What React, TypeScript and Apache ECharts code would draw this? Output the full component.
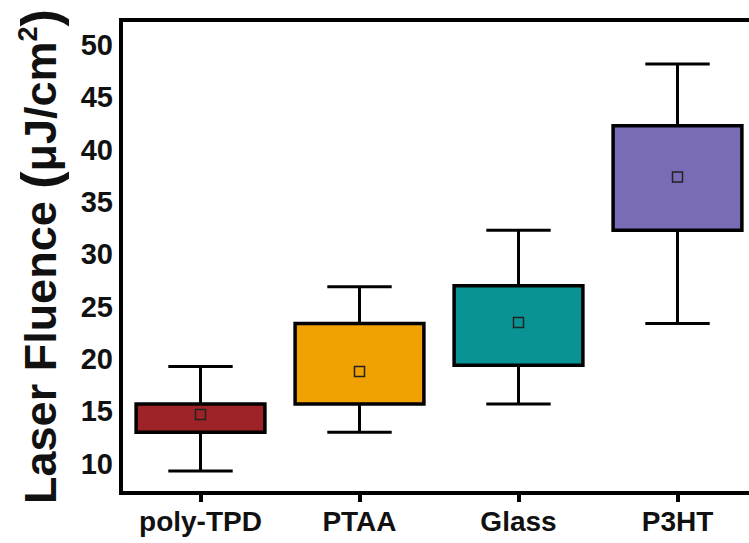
import React, { useEffect, useRef } from "react";
import * as echarts from "echarts";

const categories = ["poly-TPD", "PTAA", "Glass", "P3HT"];
const whiskerLow = [9.3, 13.0, 15.7, 23.4];
const boxLow = [13.0, 15.7, 19.4, 32.3];
const boxHigh = [15.7, 23.4, 27.0, 42.3];
const whiskerHigh = [19.3, 26.9, 32.3, 48.2];
const means = [14.7, 18.8, 23.5, 37.4];
const colors = ["#9e2329", "#f0a202", "#0a9394", "#7a6bb6"];
const yTicks = [10, 15, 20, 25, 30, 35, 40, 45, 50];

const FONT = "Liberation Sans, Arial, sans-serif";

export default function App() {
  const ref = useRef<HTMLDivElement>(null);
  useEffect(() => {
    if (!ref.current) return;
    const chart = echarts.init(ref.current, null, { renderer: "svg" });
    const data = categories.map((c, i) => [
      i,
      whiskerLow[i],
      boxLow[i],
      boxHigh[i],
      whiskerHigh[i],
      means[i],
    ]);
    chart.setOption({
      animation: false,
      backgroundColor: "#fff",
      grid: {
        left: 121,
        top: 20,
        bottom: 50,
        width: 636,
        show: true,
        borderWidth: 4,
        borderColor: "#000",
        containLabel: false,
        outerBoundsMode: "none",
      },
      xAxis: {
        type: "category",
        data: categories,
        boundaryGap: true,
        axisLine: { show: true, lineStyle: { color: "#000", width: 4 } },
        axisTick: {
          show: true,
          alignWithLabel: true,
          interval: 0,
          length: 9,
          lineStyle: { color: "#000", width: 4 },
        },
        axisLabel: {
          interval: 0,
          color: "#111",
          fontSize: 28,
          fontWeight: "bold",
          fontFamily: FONT,
          margin: 14,
        },
        splitLine: { show: false },
      },
      yAxis: {
        type: "value",
        min: 7.2,
        max: 52.4,
        axisLine: { show: true, lineStyle: { color: "#000", width: 4 } },
        axisTick: { show: false },
        splitLine: { show: false },
        axisLabel: {
          customValues: yTicks,
          color: "#111",
          fontSize: 29,
          fontWeight: "bold",
          fontFamily: FONT,
          margin: 8,
        },
        name: "{a|Laser Fluence }{p|(}{a|μJ/cm}{s|2}{p|)}",
        nameLocation: "middle",
        nameGap: 55,
        nameTextStyle: {
          fontFamily: FONT,
          fontWeight: "bold",
          color: "#111",
          rich: {
            a: { fontSize: 45, fontWeight: "bold", fontFamily: FONT, color: "#111" },
            p: { fontSize: 52, fontWeight: "bold", fontFamily: FONT, color: "#111" },
            s: {
              fontSize: 27,
              fontWeight: "bold",
              fontFamily: FONT,
              color: "#111",
              verticalAlign: "top",
            },
          },
        },
      },
      series: [
        {
          type: "custom",
          data,
          renderItem: (params: any, api: any) => {
            const idx = api.value(0);
            const band = api.size([1, 0])[0];
            const boxW = band * 0.81;
            const capW = boxW / 2;
            const pLow = api.coord([idx, api.value(1)]);
            const pQ1 = api.coord([idx, api.value(2)]);
            const pQ3 = api.coord([idx, api.value(3)]);
            const pHigh = api.coord([idx, api.value(4)]);
            const pMean = api.coord([idx, api.value(5)]);
            const cx = pQ1[0];
            const lw = 3;
            const color = colors[params.dataIndex];
            const ms = 10;
            return {
              type: "group",
              children: [
                {
                  type: "line",
                  shape: { x1: cx, y1: pHigh[1], x2: cx, y2: pQ3[1] },
                  style: { stroke: "#000", lineWidth: lw },
                },
                {
                  type: "line",
                  shape: { x1: cx, y1: pLow[1], x2: cx, y2: pQ1[1] },
                  style: { stroke: "#000", lineWidth: lw },
                },
                {
                  type: "line",
                  shape: { x1: cx - capW / 2, y1: pHigh[1], x2: cx + capW / 2, y2: pHigh[1] },
                  style: { stroke: "#000", lineWidth: lw },
                },
                {
                  type: "line",
                  shape: { x1: cx - capW / 2, y1: pLow[1], x2: cx + capW / 2, y2: pLow[1] },
                  style: { stroke: "#000", lineWidth: lw },
                },
                {
                  type: "rect",
                  shape: {
                    x: cx - boxW / 2,
                    y: pQ3[1],
                    width: boxW,
                    height: pQ1[1] - pQ3[1],
                  },
                  style: { fill: color, stroke: "#000", lineWidth: 3.5 },
                },
                {
                  type: "rect",
                  shape: { x: cx - ms / 2, y: pMean[1] - ms / 2, width: ms, height: ms },
                  style: { fill: "none", stroke: "#222", lineWidth: 1.5 },
                },
              ],
            };
          },
        },
      ],
    });
    return () => chart.dispose();
  }, []);
  return <div ref={ref} style={{ width: 749, height: 543, position: "absolute", left: 0, top: 0 }} />;
}
